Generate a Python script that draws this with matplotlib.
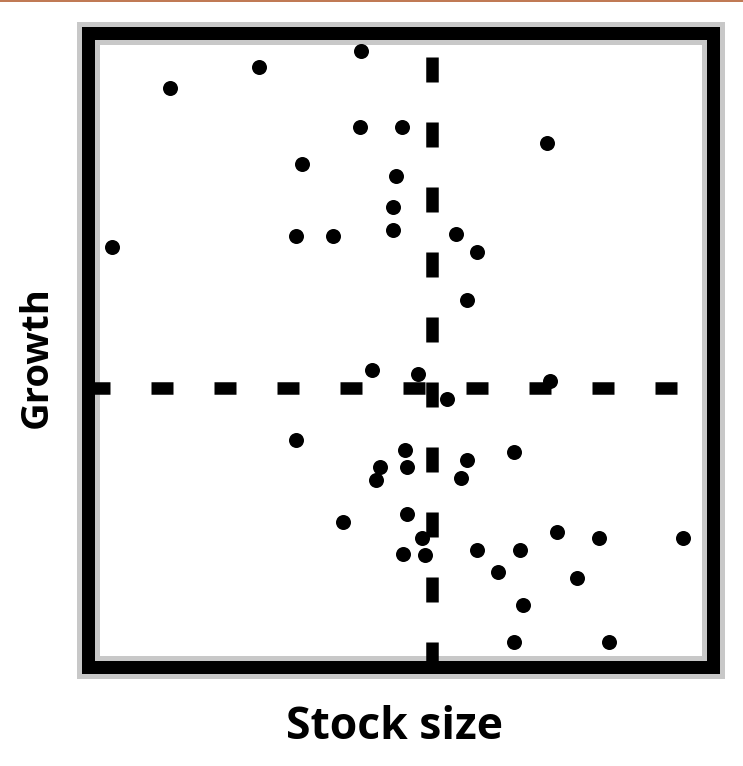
import matplotlib
matplotlib.use("Agg")
import matplotlib.pyplot as plt
from matplotlib.patches import Rectangle
from matplotlib.lines import Line2D

# Stock size (x) and growth (y), arbitrary units
stock = [43.7, 27.4, 13.1, 43.5, 50.2, 34.2, 49.3, 48.8, 48.8, 33.3,
         39.2, 3.8, 73.4, 58.9, 62.2, 60.6, 45.4, 52.8, 57.4, 73.9,
         33.3, 50.7, 51.0, 46.7, 46.1, 60.6, 59.7, 68.2, 40.8, 51.0,
         53.4, 50.4, 53.9, 62.2, 65.6, 75.0, 69.1, 81.8, 95.2, 78.2,
         69.6, 68.2, 83.4]
growth = [53.1, 50.6, 47.3, 41.1, 41.1, 35.3, 33.4, 28.5, 24.9, 23.9,
          23.9, 22.2, 38.6, 24.2, 21.4, 13.8, 2.8, 2.2, -1.8, 1.1,
          -8.2, -9.8, -12.5, -12.5, -14.5, -11.4, -14.2, -10.1, -21.1, -19.9,
          -23.7, -26.2, -26.4, -25.6, -29.0, -22.7, -25.6, -23.7, -23.7, -30.0,
          -34.2, -40.1, -40.1]

x_range = (0, 100)
y_range = (-44, 56)
zero_growth = 0
ref_stock = 55

W, H, DPI = 743, 766, 100


def px(p):
    # pixels -> points
    return p * 72.0 / DPI


def plot_scatter():
    fig = plt.figure(figsize=(W / DPI, H / DPI), dpi=DPI)
    ax = fig.add_axes([88 / W, (H - 667) / H, 625 / W, 634.5 / H])

    ax.set_xlim(*x_range)
    ax.set_ylim(*y_range)
    ax.set_xticks([])
    ax.set_yticks([])

    # soft grey halo round the thick frame
    ax.add_patch(Rectangle((0, 0), 1, 1, transform=ax.transAxes, fill=False,
                           ec="#c8c8c8", lw=px(23), clip_on=False, zorder=1))
    for s in ax.spines.values():
        s.set_linewidth(px(13))
        s.set_color("black")
        s.set_capstyle("projecting")
        s.set_zorder(5)

    ax.axhline(zero_growth, color="black", lw=px(12.5),
               dashes=(22 / 12.5, 41 / 12.5), zorder=2)
    ax.axvline(ref_stock, color="black", lw=px(12.5),
               dashes=(25 / 12.5, 40 / 12.5), zorder=2)

    ax.plot(stock, growth, "o", color="black", ms=px(15), mec="black",
            mew=0, zorder=3, clip_on=False)

    fig.text(395 / W, 1 - 739 / H, "Stock size", fontsize=32,
             fontweight="bold", family="Open Sans", ha="center",
             va="baseline")
    fig.text(47 / W, 1 - 357 / H, "Growth", fontsize=27.5, rotation=90,
             rotation_mode="anchor", fontweight="bold", family="Open Sans",
             ha="center", va="baseline")

    # thin accent line along the top edge
    fig.add_artist(Line2D([0, 1], [1 - 0.8 / H, 1 - 0.8 / H],
                          transform=fig.transFigure, color="#c07a55",
                          lw=px(2)))

    fig.savefig("out.png", dpi=DPI)


def main():
    plot_scatter()


if __name__ == "__main__":
    main()
